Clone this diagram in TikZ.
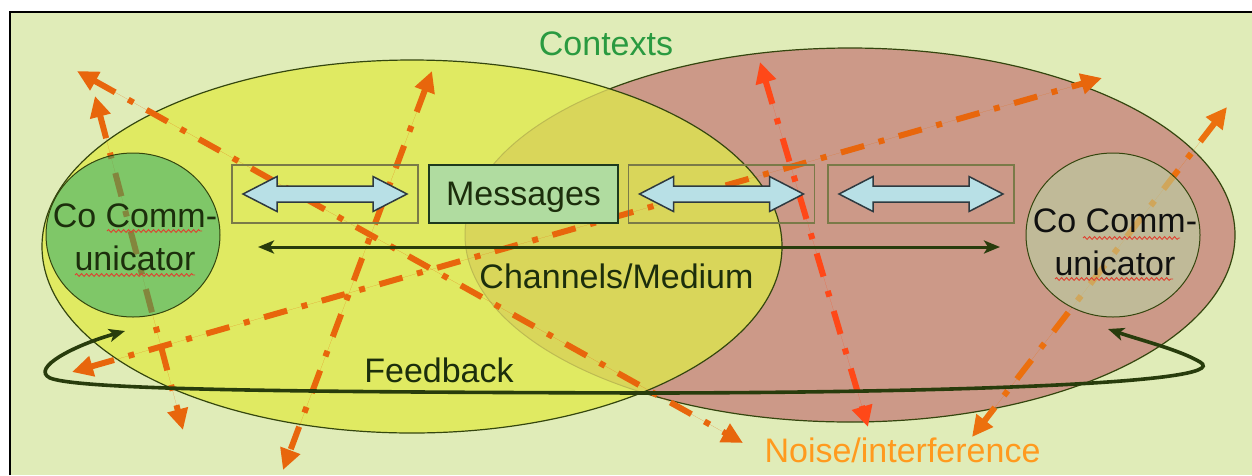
\documentclass[tikz,border=0pt]{standalone}
\usepackage{fontspec}
\setmainfont{Liberation Sans}
\usetikzlibrary{arrows.meta,shapes.geometric,decorations.pathmorphing}

\definecolor{bgcol}{HTML}{E0ECB8}
\definecolor{yellowcol}{HTML}{E0EA62}
\definecolor{redcol}{HTML}{CC9988}
\definecolor{overlapcol}{HTML}{D9D65A}
\definecolor{faintrim}{HTML}{BDBB52}
\definecolor{rimcol}{HTML}{34460E}
\definecolor{greencirc}{RGB}{32,166,110}
\definecolor{tancirc}{RGB}{182,220,168}
\definecolor{darktext}{HTML}{1C2E0C}
\definecolor{blacktext}{HTML}{101010}
\definecolor{contextcol}{HTML}{2A9A40}
\definecolor{noisecol}{HTML}{FF9A1E}
\definecolor{noiseA}{HTML}{E8660C}
\definecolor{noiseB}{HTML}{FF4818}
\definecolor{noiseC}{HTML}{EC700E}
\definecolor{boxcol}{HTML}{7A7A48}
\definecolor{msgfill}{HTML}{B0DCA0}
\definecolor{msgdraw}{HTML}{1E3A1E}
\definecolor{arrowfill}{HTML}{B8E0E6}
\definecolor{arrowdraw}{HTML}{2E3A40}
\definecolor{linkcol}{HTML}{283C0C}
\definecolor{squigcol}{HTML}{E04030}

\begin{document}
\begin{tikzpicture}[x=1pt,y=-1pt,
  txt/.style={font=\fontsize{34}{43}\selectfont, inner sep=0pt},
  rim/.style={draw=rimcol, line width=1.2pt},
  commcirc/.style={ellipse, minimum width=174pt, minimum height=164pt,
    inner sep=0pt, draw=rimcol, line width=1pt, fill opacity=0.5},
  noise/.style={line width=6pt, line cap=butt,
    dash pattern=on 24pt off 15pt on 6pt off 15pt,
    >={Triangle[length=21pt,width=20pt]}, <->},
  chanbox/.style={draw=boxcol, line width=1.2pt, minimum width=186pt,
    minimum height=58pt, inner sep=0pt},
  msgbox/.style={txt, draw=msgdraw, fill=msgfill, line width=1.8pt,
    minimum width=189pt, minimum height=58pt, text=darktext, text depth=0pt},
  link/.style={draw=linkcol, >={Stealth[length=16pt,width=13pt,inset=4pt]}, <->},
  squiggle/.style={draw=squigcol, line width=0.9pt, decorate,
    decoration={snake, segment length=5pt, amplitude=1.4pt}},
  dblarrow/.pic={
    \draw[draw=arrowdraw, fill=arrowfill, line width=1.5pt, line join=miter]
      (-82,0) -- (-48,-17.5) -- (-48,-8) -- (48,-8) -- (48,-17.5) -- (82,0)
      -- (48,17.5) -- (48,8) -- (-48,8) -- (-48,17.5) -- cycle;}
]
\useasboundingbox (0,0) rectangle (1252,475);
\fill[white] (0,0) rectangle (1252,475);
\fill[bgcol] (10,12) rectangle (1252,475);
\draw[line width=2pt] (10,475) -- (10,12) -- (1252,12);

% the two overlapping context ellipses
\fill[redcol] (850,235) ellipse [x radius=385, y radius=187];
\draw[rim] (850,235) ellipse [x radius=385, y radius=187];
\fill[yellowcol] (412,246.5) ellipse [x radius=370, y radius=186.5];
\begin{scope}
  \clip (850,235) ellipse [x radius=385, y radius=187];
  \fill[overlapcol] (412,246.5) ellipse [x radius=370, y radius=186.5];
\end{scope}
\begin{scope}
  \clip (412,246.5) ellipse [x radius=370, y radius=186.5];
  \draw[draw=faintrim, line width=1pt] (850,235) ellipse [x radius=385, y radius=187];
\end{scope}
\draw[rim] (412,246.5) ellipse [x radius=370, y radius=186.5];

% noise / interference paths
\coordinate (n1a) at (77,71);    \coordinate (n1b) at (743,443);
\coordinate (n2a) at (95,96);    \coordinate (n2b) at (183,430);
\coordinate (n3a) at (432,71);   \coordinate (n3b) at (283,470);
\coordinate (n4a) at (72,372);   \coordinate (n4b) at (1102,78);
\coordinate (n5a) at (760,62);   \coordinate (n5b) at (868,427);
\coordinate (n6a) at (1227,107); \coordinate (n6b) at (972,437);
\draw[noise, draw=noiseA, fill=noiseA] (n1a) -- (n1b);
\draw[noise, draw=noiseA, fill=noiseA] (n2a) -- (n2b);
\draw[noise, draw=noiseA, fill=noiseA] (n3a) -- (n3b);
\draw[noise, draw=noiseA, fill=noiseA] (n4a) -- (n4b);
\draw[noise, draw=noiseB, fill=noiseB] (n5a) -- (n5b);
\draw[noise, draw=noiseC, fill=noiseC] (n6a) -- (n6b);

% communicators
\node[commcirc, fill=greencirc] (lc) at (133,235) {};
\node[commcirc, fill=tancirc] (rc) at (1113,235) {};
\node[txt, text=darktext, align=center] (lct) at (135,237.5) {Co Comm-\\unicator};
\node[txt, text=blacktext, align=center] (rct) at (1115,242.5) {Co Comm-\\unicator};
\draw[squiggle] (107,231) -- (202,231);
\draw[squiggle] (75,275) -- (195,275);
\draw[squiggle] (1083,238) -- (1180,238);
\draw[squiggle] (1055,279) -- (1173,279);

% message row
\node[chanbox] (box1) at (325,194) {};
\node[msgbox] (msg) at (523.5,194) {Messages};
\node[chanbox] (box3) at (721.5,194) {};
\node[chanbox] (box4) at (921,194) {};
\pic at (box1.center) {dblarrow};
\pic at (box3.center) {dblarrow};
\pic at (box4.center) {dblarrow};

% channel and feedback
\coordinate (chL) at (258,247);
\coordinate (chR) at (1000,247);
\draw[link, line width=3pt] (chL) -- (chR);
\coordinate (fbL) at (125,331);
\coordinate (fbR) at (1108,329);
\draw[link, line width=3.6pt] (fbL) .. controls (75,345) and (30,368) .. (50,378)
  .. controls (80,390) and (300,392) .. (640,393)
  .. controls (900,393) and (1240,385) .. (1200,362)
  .. controls (1180,350) and (1140,340) .. (fbR);

% labels
\node[txt, text=contextcol, anchor=base] (ctx) at (606,55) {Contexts};
\node[txt, text=darktext, anchor=base] (chn) at (616.5,288) {Channels/Medium};
\node[txt, text=darktext, anchor=base] (fbk) at (439,382) {Feedback};
\node[txt, text=noisecol, anchor=base] (nse) at (902.5,462) {Noise/interference};
\end{tikzpicture}
\end{document}
